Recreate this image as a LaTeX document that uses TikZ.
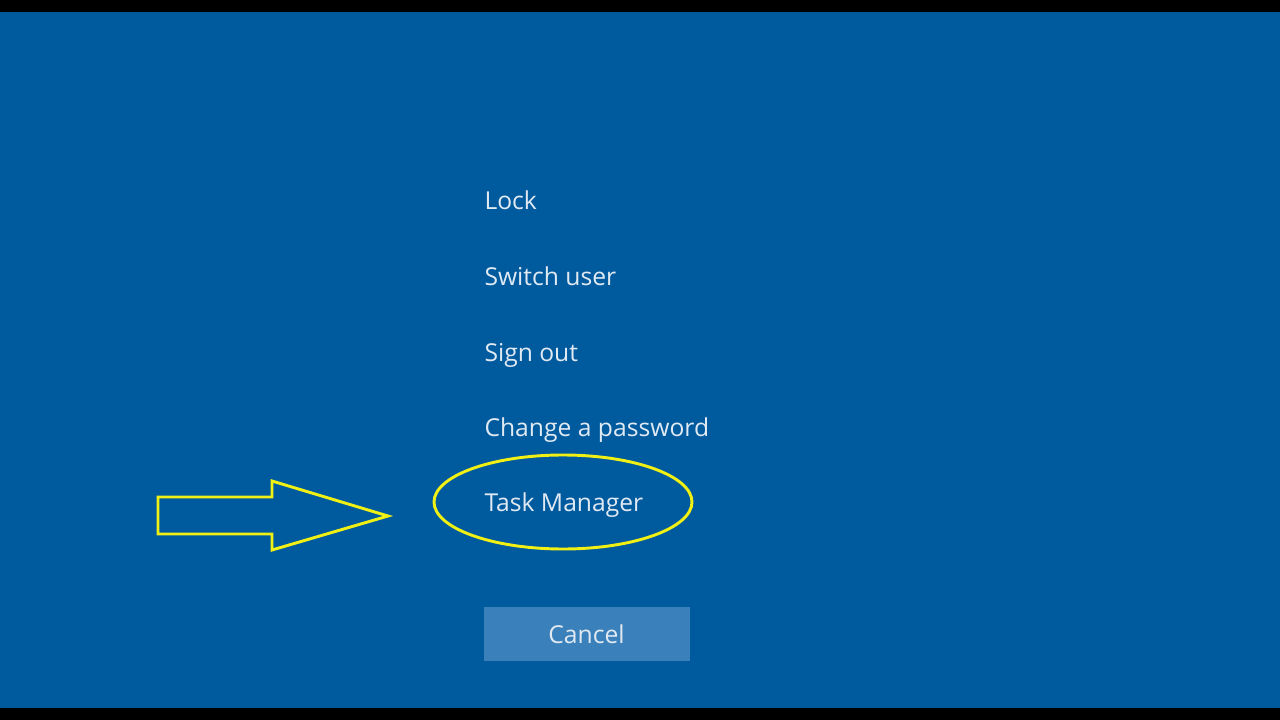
\documentclass[tikz,border=0pt]{standalone}
\usepackage{fontspec}
\setmainfont{Open Sans}
\definecolor{winblue}{RGB}{0,90,158}
\definecolor{btnblue}{RGB}{58,128,186}
\definecolor{menutext}{RGB}{225,234,243}
\definecolor{markyellow}{RGB}{240,240,20}
\tikzset{every picture/.style={line width=0.75pt}}
\tikzset{menuitem/.style={anchor=base west, inner sep=0pt, text=menutext, font=\fontsize{18.5}{22}\selectfont}}
\begin{document}
\begin{tikzpicture}[x=0.75pt,y=0.75pt,yscale=-1,xscale=1]
			%Shape: Background
			\fill[black] (0,0) rectangle (1280,720);
			\fill[winblue] (0,12) rectangle (1280,708);
			% Text Nodes
			\node[menuitem] (lock) at (484,210) {Lock};
			\node[menuitem] (switch) at (484,285) {Switch user};
			\node[menuitem] (signout) at (484,361) {Sign out};
			\node[menuitem] (passwd) at (484,436) {Change a password};
			\node[menuitem] (taskmgr) at (484,511) {Task Manager};
			%Shape: Button
			\node[fill=btnblue, minimum width=154.5pt, minimum height=40.5pt, inner sep=0pt, text=menutext, font=\fontsize{18.5}{22}\selectfont] (cancel) at (586.5,634) {Cancel};
			%Shape: Ellipse
			\draw[markyellow, line width=2.2pt] (563,502) ellipse (129 and 47);
			%Shape: Arrow
			\draw[markyellow, line width=2.2pt, line join=miter] (158,497) -- (272,497) -- (272,481) -- (388,516) -- (272,550) -- (272,534) -- (158,534) -- cycle;
\end{tikzpicture}
\end{document}
